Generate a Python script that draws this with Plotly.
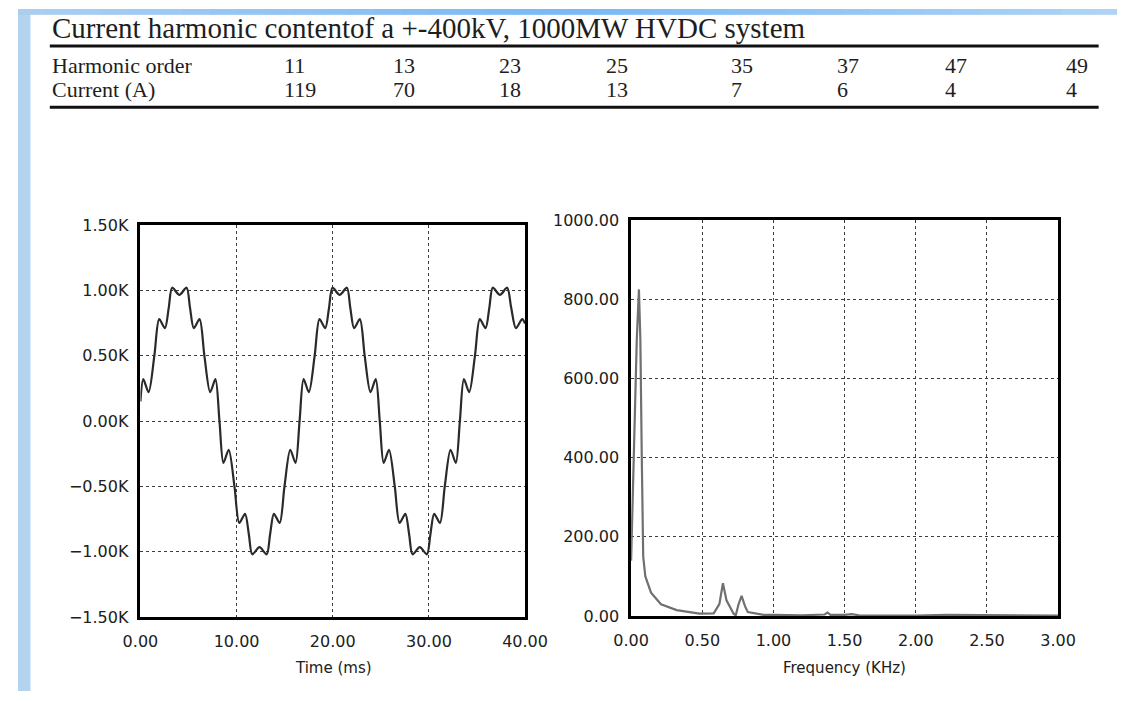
import plotly.graph_objects as go

# ---- harmonic table ----
table_title = "Current harmonic contentof a +-400kV, 1000MW HVDC system"
harmonic_order = [11, 13, 23, 25, 35, 37, 47, 49]
harmonic_current = [119, 70, 18, 13, 7, 6, 4, 4]

# ---- converter current waveform (time in ms, current in A) ----
wave_t = [0.0, 0.30, 0.85, 1.45, 1.95, 2.55, 2.95, 3.30, 4.05, 4.80, 5.15, 5.55, 6.15, 6.65, 7.25, 7.80, 8.22,
          8.63, 9.18, 9.78, 10.28, 10.88, 11.28, 11.63, 12.38, 13.13, 13.48, 13.88, 14.48, 14.98, 15.58, 16.13, 16.55,
          16.97, 17.52, 18.12, 18.62, 19.22, 19.62, 19.97, 20.72, 21.47, 21.82, 22.22, 22.82, 23.32, 23.92, 24.47, 24.89,
          25.30, 25.85, 26.45, 26.95, 27.55, 27.95, 28.30, 29.05, 29.80, 30.15, 30.55, 31.15, 31.65, 32.25, 32.80, 33.22,
          33.64, 34.19, 34.79, 35.29, 35.89, 36.29, 36.64, 37.39, 38.14, 38.55, 39.05, 39.70, 40.0]
wave_i = [150, 320, 220, 500, 780, 710, 870, 1020, 965, 1020, 870, 710, 780, 500, 220, 320, 0,
          -320, -220, -500, -780, -710, -870, -1020, -965, -1020, -870, -710, -780, -500, -220, -320, 0,
          320, 220, 500, 780, 710, 870, 1020, 965, 1020, 870, 710, 780, 500, 220, 320, 0,
          -320, -220, -500, -780, -710, -870, -1020, -965, -1020, -870, -710, -780, -500, -220, -320, 0,
          320, 220, 500, 780, 710, 870, 1020, 965, 1020, 870, 710, 780, 745]

# ---- spectrum (frequency in kHz, amplitude in A) ----
spec_f = [0.0, 0.010, 0.025, 0.040, 0.055, 0.065, 0.075, 0.085, 0.10, 0.14, 0.21, 0.32, 0.48, 0.58, 0.62,
          0.645, 0.67, 0.72, 0.735, 0.755, 0.776, 0.80, 0.82, 0.93, 1.0, 1.2, 1.36, 1.38, 1.40, 1.5, 1.55,
          1.6, 2.0, 2.22, 3.0]
spec_a = [140, 280, 450, 700, 825, 700, 400, 150, 100, 59, 30, 15, 6, 7, 30,
          83, 40, 6, 2, 30, 51, 25, 10, 3, 3, 2, 4, 9, 3, 3, 5,
          2, 1, 3, 1]

W, H = 1139, 701


def px(x):
    return x / W


def py(y):
    return 1 - y / H


fig = go.Figure()

fig.add_trace(go.Scatter(
    x=wave_t, y=[v / 1000 for v in wave_i], mode="lines",
    line=dict(color="#2a2a2a", width=2.2, shape="spline", smoothing=0.8),
    xaxis="x", yaxis="y", showlegend=False, hoverinfo="skip"))

fig.add_trace(go.Scatter(
    x=spec_f, y=spec_a, mode="lines",
    line=dict(color="#707070", width=2.2),
    xaxis="x2", yaxis="y2", showlegend=False, hoverinfo="skip"))

sans = "DejaVu Sans, Arial, sans-serif"
tick_font = dict(family=sans, size=16, color="#202020")
axis_common = dict(showline=True, linecolor="black", linewidth=2.5, mirror=True,
                   ticks="", showgrid=True, gridcolor="#3c3c3c", griddash="dot", gridwidth=1.2,
                   zeroline=False, tickfont=tick_font, fixedrange=True)

fig.update_layout(
    width=W, height=H, margin=dict(l=0, r=0, t=0, b=0),
    paper_bgcolor="white", plot_bgcolor="white",
    xaxis=dict(domain=[px(127), px(526)], range=[0, 40], dtick=10, tickformat=".2f", anchor="y",
               ticklabelstandoff=8, **axis_common),
    yaxis=dict(domain=[py(625), py(222)], range=[-1.5, 1.5], dtick=0.5, tickformat=".2f", ticksuffix="K",
               anchor="x", ticklabelstandoff=6, **axis_common),
    xaxis2=dict(domain=[px(636), px(1079)], range=[0, 3], dtick=0.5, tickformat=".2f", anchor="y2",
                ticklabelstandoff=8, **axis_common),
    yaxis2=dict(domain=[py(624), py(217)], range=[0, 1000], dtick=200, tickformat=".2f", anchor="x2",
                ticklabelstandoff=6, **axis_common),
)

shapes = []
# blue frame: left strip and graded top strip
shapes.append(dict(type="rect", xref="paper", yref="paper", x0=0, x1=px(13), y0=0, y1=1,
                   fillcolor="#b4d3f1", line_width=0, layer="above"))
top_stops = [(0.0, (172, 207, 240)), (0.5, (120, 184, 246)), (1.0, (176, 212, 244))]
n_seg = 40
for k in range(n_seg):
    u = (k + 0.5) / n_seg
    for j in range(len(top_stops) - 1):
        if top_stops[j][0] <= u <= top_stops[j + 1][0]:
            a, ca = top_stops[j]
            b, cb = top_stops[j + 1]
            s = (u - a) / (b - a)
            col = tuple(round(ca[i] + (cb[i] - ca[i]) * s) for i in range(3))
            break
    shapes.append(dict(type="rect", xref="paper", yref="paper", x0=k / n_seg, x1=(k + 1) / n_seg + 0.001,
                       y0=py(6), y1=1, fillcolor="rgb(%d,%d,%d)" % col, line_width=0, layer="above"))
# table rules
for yl in (38, 101):
    shapes.append(dict(type="line", xref="paper", yref="paper", x0=px(33), x1=px(1121), y0=py(yl), y1=py(yl),
                       line=dict(color="#111111", width=3)))
fig.update_layout(shapes=shapes)

serif = "Liberation Serif, Times New Roman, serif"
ink = "#1e1e1e"
row_y = (58, 83)
row_font = dict(family=serif, size=22, color=ink)
ann = []
ann.append(dict(text=table_title, x=px(33), y=py(20), xref="paper", yref="paper", xanchor="left",
                yanchor="middle", showarrow=False, font=dict(family=serif, size=29, color=ink)))
ann.append(dict(text="Harmonic order", x=px(33), y=py(row_y[0]), xref="paper", yref="paper", xanchor="left",
                yanchor="middle", showarrow=False, font=row_font))
ann.append(dict(text="Current (A)", x=px(33), y=py(row_y[1]), xref="paper", yref="paper", xanchor="left",
                yanchor="middle", showarrow=False, font=row_font))
col_x = [274, 387, 497, 608, 738, 848, 960, 1085]
for cx, h, c in zip(col_x, harmonic_order, harmonic_current):
    ann.append(dict(text=str(h), x=px(cx), y=py(row_y[0]), xref="paper", yref="paper", xanchor="left",
                    yanchor="middle", showarrow=False, font=row_font))
    ann.append(dict(text=str(c), x=px(cx), y=py(row_y[1]), xref="paper", yref="paper", xanchor="left",
                    yanchor="middle", showarrow=False, font=row_font))
title_font = dict(family=sans, size=15, color="#202020")
ann.append(dict(text="Time (ms)", x=px(327), y=py(677), xref="paper", yref="paper", xanchor="center",
                yanchor="middle", showarrow=False, font=title_font))
ann.append(dict(text="Frequency (KHz)", x=px(857), y=py(677), xref="paper", yref="paper", xanchor="center",
                yanchor="middle", showarrow=False, font=title_font))
fig.update_layout(annotations=ann)

fig.write_html("out.html")
